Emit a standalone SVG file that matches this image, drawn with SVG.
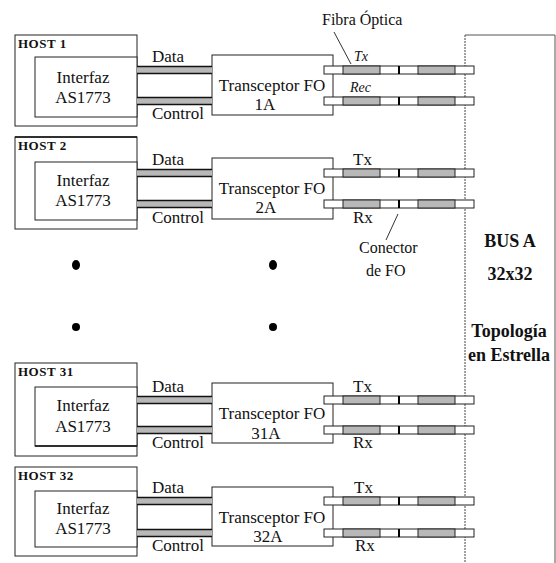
<svg xmlns="http://www.w3.org/2000/svg" width="556" height="563" viewBox="0 0 556 563">
<style>
.box{fill:#fff;stroke:#222;stroke-width:1}
.t{font-family:"Liberation Serif","DejaVu Serif",serif;font-size:17px;fill:#111}
.tm{text-anchor:middle}
.hl{font-family:"Liberation Serif","DejaVu Serif",serif;font-size:13px;font-weight:bold;fill:#111;letter-spacing:0.5px}
.bt{font-family:"Liberation Serif","DejaVu Serif",serif;font-size:18px;font-weight:bold;fill:#111;text-anchor:middle}
.it{font-family:"Liberation Serif","DejaVu Serif",serif;font-size:14px;font-style:italic;fill:#111}
.gray{fill:#b8b8b8;stroke:#222;stroke-width:1}
.lead{stroke:#333;stroke-width:1;fill:none}
</style>
<defs>
<g id="fiber">
<rect x="0" y="0" width="150" height="8" fill="#fff" stroke="#222" stroke-width="1"/>
<rect class="gray" x="19" y="0" width="37" height="8"/>
<rect class="gray" x="94" y="0" width="37" height="8"/>
<line x1="75" y1="0" x2="75" y2="8" stroke="#000" stroke-width="2"/>
</g>
<g id="wire">
<rect x="137" y="0" width="75" height="8" fill="#b8b8b8"/>
<line x1="137" y1="0.5" x2="212" y2="0.5" stroke="#111" stroke-width="1.6"/>
<line x1="137" y1="7.5" x2="212" y2="7.5" stroke="#111" stroke-width="1.6"/>
</g>
</defs>
<rect width="556" height="563" fill="#fff"/>

<g id="bus">
<line x1="465" y1="35" x2="465" y2="563" stroke="#444" stroke-width="1" stroke-dasharray="2,1"/>
<polyline points="465,35 555,35 555,563" fill="none" stroke="#555" stroke-width="1"/>
<text class="bt" x="510" y="247">BUS A</text>
<text class="bt" x="510" y="280">32x32</text>
<text class="bt" x="509" y="337">Topología</text>
<text class="bt" x="509" y="361">en Estrella</text>
</g>

<g id="host1">
<rect class="box" x="15" y="35" width="122" height="91"/>
<rect class="box" x="35" y="57" width="102" height="60"/>
<text class="hl" x="18" y="48">HOST 1</text>
<text class="t tm" x="83" y="83">Interfaz</text>
<text class="t tm" x="83" y="103">AS1773</text>
</g>
<g id="trans1">
<rect class="box" x="212" y="55" width="121" height="60"/>
<text class="t tm" x="272" y="91">Transceptor FO</text>
<text class="t tm" x="265" y="110">1A</text>
</g>

<g id="host2" transform="translate(0,102)">
<rect class="box" x="15" y="35" width="122" height="92"/>
<line x1="15" y1="35" x2="137" y2="35" stroke="#111" stroke-width="1.6"/>
<rect class="box" x="35" y="60" width="102" height="58"/>
<text class="hl" x="18" y="48">HOST 2</text>
<text class="t tm" x="83" y="84">Interfaz</text>
<text class="t tm" x="83" y="104">AS1773</text>
</g>
<g id="trans2" transform="translate(0,103)">
<rect class="box" x="212" y="55" width="121" height="61"/>
<text class="t tm" x="272" y="91">Transceptor FO</text>
<text class="t tm" x="266" y="110">2A</text>
</g>

<g id="host31" transform="translate(0,328)">
<rect class="box" x="15" y="35" width="122" height="93"/>
<rect class="box" x="35" y="59" width="102" height="59"/>
<line x1="35" y1="118" x2="137" y2="118" stroke="#111" stroke-width="1.6"/>
<text class="hl" x="18" y="48">HOST 31</text>
<text class="t tm" x="83" y="83">Interfaz</text>
<text class="t tm" x="83" y="104">AS1773</text>
</g>
<g id="trans31" transform="translate(0,328)">
<rect class="box" x="212" y="55" width="121" height="60"/>
<text class="t tm" x="272" y="91">Transceptor FO</text>
<text class="t tm" x="266" y="111">31A</text>
</g>

<g id="host32" transform="translate(0,432)">
<rect class="box" x="15" y="35" width="122" height="89"/>
<rect class="box" x="35" y="59" width="102" height="56"/>
<text class="hl" x="18" y="48">HOST 32</text>
<text class="t tm" x="83" y="82">Interfaz</text>
<text class="t tm" x="83" y="102">AS1773</text>
</g>
<g id="trans32" transform="translate(0,432)">
<rect class="box" x="212" y="55" width="121" height="59"/>
<text class="t tm" x="272" y="91">Transceptor FO</text>
<text class="t tm" x="268" y="110" fill="#555">32A</text>
</g>

<g id="dots" fill="#000">
<ellipse cx="76" cy="265" rx="4" ry="5"/>
<ellipse cx="273" cy="265" rx="4" ry="5"/>
<circle cx="76" cy="327" r="4"/>
<circle cx="273" cy="327" r="4"/>
</g>

<g id="connectors">
<use href="#wire" y="66"/>
<use href="#wire" y="97"/>
<use href="#wire" y="169"/>
<use href="#wire" y="200"/>
<use href="#wire" y="396"/>
<use href="#wire" y="426"/>
<use href="#wire" y="497"/>
<use href="#wire" y="529"/>
<use href="#fiber" x="324" y="66"/>
<use href="#fiber" x="324" y="97"/>
<use href="#fiber" x="324" y="169"/>
<use href="#fiber" x="324" y="200"/>
<use href="#fiber" x="324" y="396"/>
<use href="#fiber" x="324" y="426"/>
<use href="#fiber" x="324" y="497"/>
<use href="#fiber" x="324" y="529"/>
<text class="t" x="152" y="62">Data</text>
<text class="t" x="152" y="119">Control</text>
<text class="t" x="152" y="165">Data</text>
<text class="t" x="152" y="223">Control</text>
<text class="t" x="152" y="392">Data</text>
<text class="t" x="152" y="448">Control</text>
<text class="t" x="152" y="493">Data</text>
<text class="t" x="152" y="551">Control</text>
<text class="it" x="354" y="61">Tx</text>
<text class="it" x="350" y="92">Rec</text>
<text class="t" x="353" y="165">Tx</text>
<text class="t" x="353" y="223">Rx</text>
<text class="t" x="353" y="392">Tx</text>
<text class="t" x="353" y="448">Rx</text>
<text class="t" x="354" y="493">Tx</text>
<text class="t" x="355" y="551">Rx</text>
<text class="t" x="322" y="25" style="font-size:16px">Fibra Óptica</text>
<line class="lead" x1="334" y1="32" x2="351" y2="64"/>
<line class="lead" x1="398" y1="214" x2="386" y2="240"/>
<text class="t" x="359" y="253" style="font-size:16px">Conector</text>
<text class="t" x="366" y="276" style="font-size:16px">de FO</text>
</g>
</svg>
